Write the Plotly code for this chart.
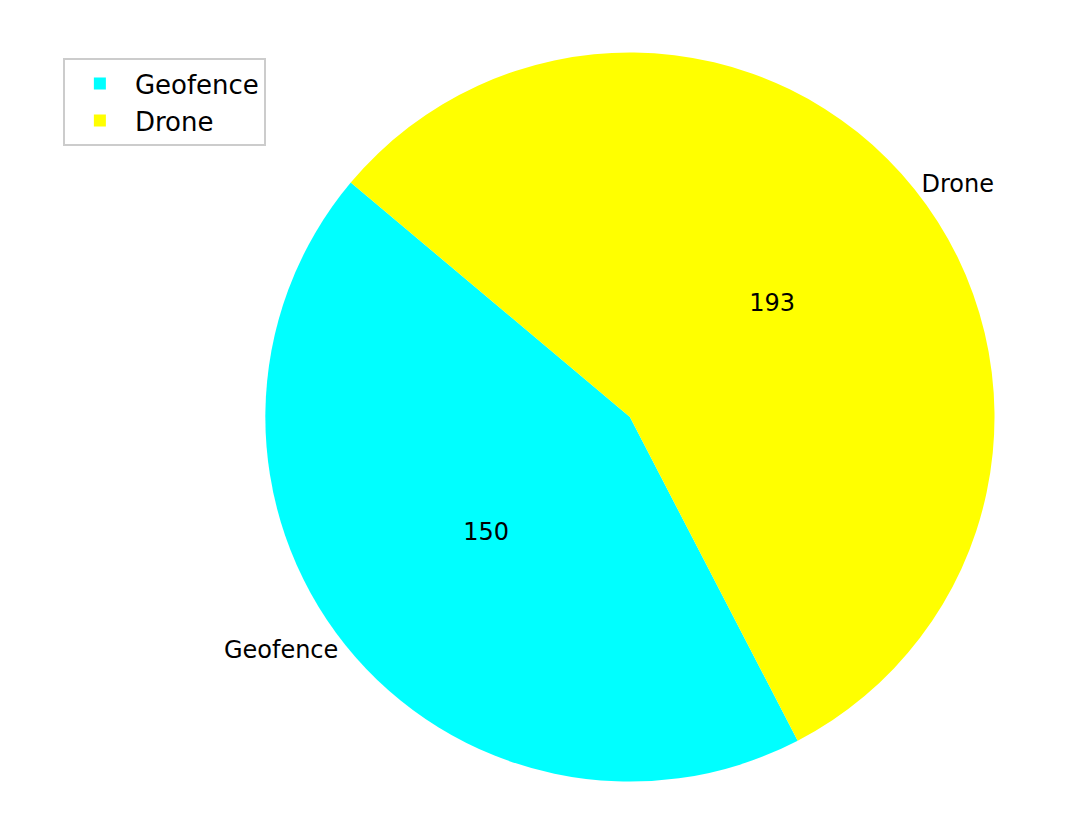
import plotly.graph_objects as go

labels = ["Geofence", "Drone"]
values = [150, 193]
colors = ["#00FFFF", "#FFFF00"]

dom = dict(x=[0.206, 0.95], y=[0.06, 0.946])
common = dict(labels=labels, values=values, sort=False, direction="clockwise",
              rotation=152.6, domain=dom, hoverinfo="none")
fig = go.Figure()
fig.add_trace(go.Pie(**common, marker=dict(colors=colors), textinfo="value",
                     textposition="inside", insidetextorientation="horizontal",
                     textfont=dict(size=24, color="black", family="DejaVu Sans")))
fig.add_trace(go.Pie(**common, marker=dict(colors=["rgba(0,0,0,0)"] * 2), textinfo="label",
                     textposition="outside", showlegend=False,
                     textfont=dict(size=24, color="black", family="DejaVu Sans")))
fig.update_layout(width=1076, height=823, margin=dict(l=0, r=0, t=0, b=0),
                  paper_bgcolor="white", font=dict(family="DejaVu Sans"),
                  legend=dict(x=0.051, y=0.939, xanchor="left", yanchor="top",
                              bordercolor="#cccccc", borderwidth=2, itemwidth=60,
                              font=dict(size=26, color="black")))
fig.write_html("out.html")
